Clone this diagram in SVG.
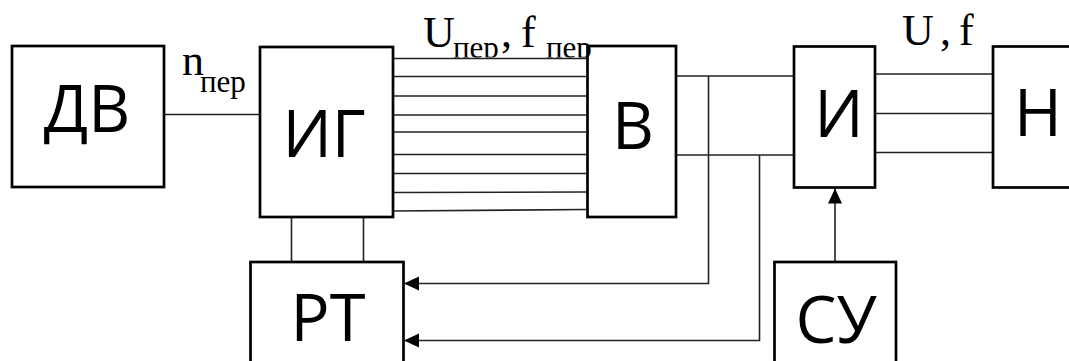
<svg xmlns="http://www.w3.org/2000/svg" width="1069" height="361" viewBox="0 0 1069 361">
<style>
.box{fill:#fff;stroke:#000;stroke-width:2.7}
.lbl{font-family:"Open Sans","Noto Sans",sans-serif;font-size:65px;fill:#000;text-anchor:middle}
.ser{font-family:"Liberation Serif","Times New Roman",serif;fill:#000}
.big{font-size:44px}
.sub{font-size:31px}
.ln{fill:none;stroke:#222;stroke-width:1.6}
</style>
<defs>
<marker id="ah" markerUnits="userSpaceOnUse" markerWidth="16" markerHeight="16" refX="15" refY="7" orient="auto">
<path d="M0,0 L15,7 L0,14 Z" fill="#000"/>
</marker>
<clipPath id="cl"><rect x="0" y="0" width="1069" height="57.5"/></clipPath>
</defs>
<rect width="1069" height="361" fill="#fff"/>
<g id="connectors">
<line class="ln" x1="164" y1="114.5" x2="260" y2="114.5"/>
<line class="ln" x1="393" y1="58.5" x2="587" y2="58.5"/>
<line class="ln" x1="393" y1="76.5" x2="587" y2="76.5"/>
<line class="ln" x1="393" y1="96" x2="587" y2="96"/>
<line class="ln" x1="393" y1="115" x2="586" y2="115"/>
<line class="ln" x1="393" y1="132" x2="586" y2="132"/>
<line class="ln" x1="393" y1="154.5" x2="587" y2="154.5"/>
<line class="ln" x1="393" y1="173.5" x2="587" y2="173.5"/>
<line class="ln" x1="393" y1="192.5" x2="587" y2="192"/>
<line class="ln" x1="393" y1="211" x2="587" y2="209.5"/>
<line class="ln" x1="676" y1="76" x2="794" y2="76"/>
<line class="ln" x1="676" y1="155" x2="794" y2="155"/>
<polyline class="ln" points="708.5,76 708.5,283.5 404,283.5" marker-end="url(#ah)"/>
<polyline class="ln" points="759.5,155 759.5,340.5 404,340.5" marker-end="url(#ah)"/>
<line class="ln" x1="875" y1="74" x2="993" y2="74"/>
<line class="ln" x1="875" y1="113.5" x2="993" y2="113.5"/>
<line class="ln" x1="875" y1="152.5" x2="993" y2="152.5"/>
<line class="ln" x1="291.5" y1="217" x2="291.5" y2="262"/>
<line class="ln" x1="363.5" y1="217" x2="363.5" y2="262"/>
<line class="ln" x1="835" y1="262" x2="835" y2="188.5" marker-end="url(#ah)"/>
</g>
<g id="node-DV"><rect class="box" x="12" y="46" width="152" height="141"/><text class="lbl" x="87" y="132">ДВ</text></g>
<g id="node-IG"><rect class="box" x="260" y="47" width="133" height="170"/><text class="lbl" x="324" y="157">ИГ</text></g>
<g id="node-V"><rect class="box" x="587.5" y="46" width="88.5" height="171"/><text class="lbl" x="633" y="149">В</text></g>
<g id="node-I"><rect class="box" x="794" y="46.5" width="81" height="141"/><text class="lbl" x="839" y="137">И</text></g>
<g id="node-N"><rect class="box" x="993" y="46.5" width="100" height="141"/><text class="lbl" x="1038" y="136">Н</text></g>
<g id="node-RT"><rect class="box" x="250.5" y="262" width="153" height="120"/><text class="lbl" x="328" y="341">РТ</text></g>
<g id="node-SU"><rect class="box" x="774.5" y="262" width="121.5" height="120"/><text class="lbl" x="836" y="343">СУ</text></g>
<g id="labels">
<text class="ser big" x="182" y="75">n</text>
<text class="ser sub" x="200" y="91.5">пер</text>
<text class="ser big" x="423" y="47">U</text>
<text class="ser sub" x="453" y="57.5" clip-path="url(#cl)">пер</text>
<text class="ser big" x="501" y="47">,</text>
<text class="ser big" x="521" y="47">f</text>
<text class="ser sub" x="546" y="57.5" clip-path="url(#cl)">пер</text>
<text class="ser big" x="902" y="45">U</text>
<text class="ser big" x="940" y="45">,</text>
<text class="ser big" x="959" y="45">f</text>
</g>
</svg>
